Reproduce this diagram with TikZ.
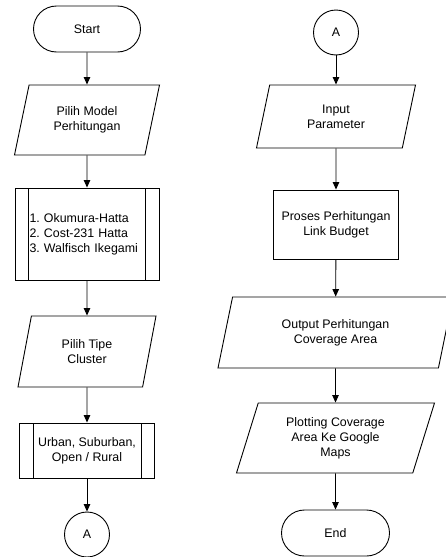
\documentclass[tikz,border=0pt]{standalone}
\usepackage{fontspec}
\setmainfont{Liberation Sans}
\usetikzlibrary{shapes.geometric,shapes.misc,arrows.meta}
\begin{document}
\begin{tikzpicture}[x=1pt,y=-1pt,
  every node/.style={font=\fontsize{12.4}{15}\selectfont, line width=0.9pt, inner sep=2pt},
  term/.style={draw, rounded rectangle, minimum width=111pt, minimum height=46pt},
  conn/.style={draw, circle, minimum size=45pt},
  io/.style={draw, trapezium, trapezium left angle=64.5, trapezium right angle=115.5,
    trapezium stretches body, align=center},
  proc/.style={draw, rectangle, align=center},
  pred/.style={draw, rectangle, path picture={
    \draw[line width=0.9pt] ([xshift=13.5pt]path picture bounding box.north west) -- ([xshift=13.5pt]path picture bounding box.south west);
    \draw[line width=0.9pt] ([xshift=-13.5pt]path picture bounding box.north east) -- ([xshift=-13.5pt]path picture bounding box.south east);}},
  flow/.style={draw, line width=0.9pt, -{Triangle[length=7.5pt,width=6.5pt]}}
]
\useasboundingbox (0,0) rectangle (446,557);
% left column
\node[term] (start) at (87,29) {Start};
\node[io, minimum width=145pt, minimum height=70pt] (p1) at (87,120) {Pilih Model\\Perhitungan};
\node[pred, minimum width=144pt, minimum height=92pt, text width=115pt, align=left] (m1) at (87,234)
  {1.\ Okumura-Hatta\\2.\ Cost-231 Hatta\\3.\ Walfisch Ikegami};
\node[io, minimum width=138pt, minimum height=71pt] (p2) at (87,351.5) {Pilih Tipe\\Cluster};
\node[pred, minimum width=135pt, minimum height=55pt, align=center] (m2) at (87,450.5)
  {Urban, Suburban,\\Open / Rural};
\node[conn] (a1) at (87,534.5) {A};
% right column
\node[conn] (a2) at (336,32.5) {A};
\node[io, minimum width=159pt, minimum height=63pt] (ip) at (336,116.5) {Input\\Parameter};
\node[proc, minimum width=125pt, minimum height=69pt] (pr) at (336,224.5) {Proses Perhitungan\\Link Budget};
\node[io, minimum width=235pt, minimum height=71pt] (op) at (335.5,332.5) {Output Perhitungan\\Coverage Area};
\node[io, minimum width=198pt, minimum height=70pt] (pl) at (335.5,438) {Plotting Coverage\\Area Ke Google\\Maps};
\node[term, minimum width=112pt] (end) at (335.5,533) {End};
% connectors
\draw[flow] (start) -- (p1);
\draw[flow] (p1) -- (m1);
\draw[flow] (m1) -- (p2);
\draw[flow] (p2) -- (m2);
\draw[flow] (m2) -- (a1);
\draw[flow] (a2) -- (ip);
\draw[flow] (ip) -- (pr);
\draw[flow] (pr) -- (op);
\draw[flow] (op) -- (pl);
\draw[flow] (pl) -- (end);
\end{tikzpicture}
\end{document}
